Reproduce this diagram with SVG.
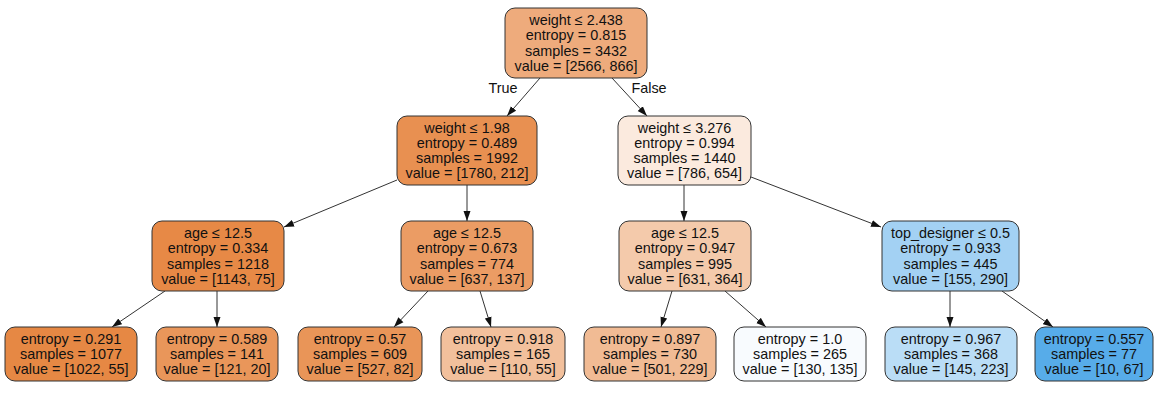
<svg xmlns="http://www.w3.org/2000/svg" width="1174" height="400" viewBox="0 0 1174 400">
  <style>
    .box { stroke: #333333; stroke-width: 1; }
    .lbl { font-family: "Liberation Sans", Arial, Helvetica, sans-serif; font-size: 14.4px; fill: #111111; text-anchor: middle; }
    .edge { stroke: #333333; stroke-width: 1; fill: none; marker-end: url(#arrow); }
  </style>
  <defs>
    <marker id="arrow" markerUnits="userSpaceOnUse" markerWidth="10" markerHeight="8" refX="10" refY="4" orient="auto">
      <path d="M0,0.5 L10,4 L0,7.5 Z" fill="#111111"/>
    </marker>
  </defs>
  <rect width="1174" height="400" fill="#ffffff"/>

  <!-- connectors -->
  <g id="connectors">
    <line class="edge" x1="540" y1="78" x2="507" y2="116"/>
    <line class="edge" x1="612" y1="78" x2="647" y2="116"/>
    <line class="edge" x1="397" y1="180" x2="284" y2="227"/>
    <line class="edge" x1="467" y1="185" x2="467" y2="221"/>
    <line class="edge" x1="684" y1="185" x2="684" y2="221"/>
    <line class="edge" x1="751" y1="177" x2="881" y2="227"/>
    <line class="edge" x1="165" y1="291" x2="112" y2="327"/>
    <line class="edge" x1="217" y1="291" x2="217" y2="327"/>
    <line class="edge" x1="428" y1="291" x2="394" y2="327"/>
    <line class="edge" x1="480" y1="291" x2="491" y2="327"/>
    <line class="edge" x1="672" y1="291" x2="661" y2="327"/>
    <line class="edge" x1="725" y1="291" x2="766" y2="327"/>
    <line class="edge" x1="950" y1="291" x2="950" y2="327"/>
    <line class="edge" x1="1002" y1="291" x2="1053" y2="327"/>
    <text class="lbl" x="503" y="93">True</text>
    <text class="lbl" x="649" y="93">False</text>
  </g>

  <!-- root split -->
  <g id="node0">
    <rect class="box" x="505" y="8" width="142" height="70" rx="10" fill="#eeab7c"/>
    <text class="lbl" x="576" y="25">weight ≤ 2.438</text>
    <text class="lbl" x="576" y="40.3">entropy = 0.815</text>
    <text class="lbl" x="576" y="55.6">samples = 3432</text>
    <text class="lbl" x="576" y="70.9">value = [2566, 866]</text>
  </g>

  <g id="node1">
    <rect class="box" x="397" y="116" width="140" height="69" rx="10" fill="#e89051"/>
    <text class="lbl" x="467" y="132.5">weight ≤ 1.98</text>
    <text class="lbl" x="467" y="147.8">entropy = 0.489</text>
    <text class="lbl" x="467" y="163.1">samples = 1992</text>
    <text class="lbl" x="467" y="178.4">value = [1780, 212]</text>
  </g>

  <g id="node8">
    <rect class="box" x="618" y="116" width="133" height="69" rx="10" fill="#fbeade"/>
    <text class="lbl" x="684.5" y="132.5">weight ≤ 3.276</text>
    <text class="lbl" x="684.5" y="147.8">entropy = 0.994</text>
    <text class="lbl" x="684.5" y="163.1">samples = 1440</text>
    <text class="lbl" x="684.5" y="178.4">value = [786, 654]</text>
  </g>

  <g id="node2">
    <rect class="box" x="152" y="221" width="132" height="70" rx="10" fill="#e78946"/>
    <text class="lbl" x="218" y="238">age ≤ 12.5</text>
    <text class="lbl" x="218" y="253.3">entropy = 0.334</text>
    <text class="lbl" x="218" y="268.6">samples = 1218</text>
    <text class="lbl" x="218" y="283.9">value = [1143, 75]</text>
  </g>

  <g id="node5">
    <rect class="box" x="401" y="221" width="132" height="70" rx="10" fill="#eb9c64"/>
    <text class="lbl" x="467" y="238">age ≤ 12.5</text>
    <text class="lbl" x="467" y="253.3">entropy = 0.673</text>
    <text class="lbl" x="467" y="268.6">samples = 774</text>
    <text class="lbl" x="467" y="283.9">value = [637, 137]</text>
  </g>

  <g id="node9">
    <rect class="box" x="619" y="221" width="132" height="70" rx="10" fill="#f4caab"/>
    <text class="lbl" x="685" y="238">age ≤ 12.5</text>
    <text class="lbl" x="685" y="253.3">entropy = 0.947</text>
    <text class="lbl" x="685" y="268.6">samples = 995</text>
    <text class="lbl" x="685" y="283.9">value = [631, 364]</text>
  </g>

  <g id="node12">
    <rect class="box" x="882" y="221" width="137" height="70" rx="10" fill="#a3d1f3"/>
    <text class="lbl" x="950.5" y="238">top_designer ≤ 0.5</text>
    <text class="lbl" x="950.5" y="253.3">entropy = 0.933</text>
    <text class="lbl" x="950.5" y="268.6">samples = 445</text>
    <text class="lbl" x="950.5" y="283.9">value = [155, 290]</text>
  </g>

  <!-- leaves -->
  <g id="node3">
    <rect class="box" x="5" y="327" width="132" height="54" rx="10" fill="#e68844"/>
    <text class="lbl" x="71" y="343.5">entropy = 0.291</text>
    <text class="lbl" x="71" y="358.8">samples = 1077</text>
    <text class="lbl" x="71" y="374.1">value = [1022, 55]</text>
  </g>

  <g id="node4">
    <rect class="box" x="156" y="327" width="122" height="54" rx="10" fill="#e9965a"/>
    <text class="lbl" x="217" y="343.5">entropy = 0.589</text>
    <text class="lbl" x="217" y="358.8">samples = 141</text>
    <text class="lbl" x="217" y="374.1">value = [121, 20]</text>
  </g>

  <g id="node6">
    <rect class="box" x="298" y="327" width="124" height="54" rx="10" fill="#e99558"/>
    <text class="lbl" x="360" y="343.5">entropy = 0.57</text>
    <text class="lbl" x="360" y="358.8">samples = 609</text>
    <text class="lbl" x="360" y="374.1">value = [527, 82]</text>
  </g>

  <g id="node7">
    <rect class="box" x="441" y="327" width="124" height="54" rx="10" fill="#f2c09c"/>
    <text class="lbl" x="503" y="343.5">entropy = 0.918</text>
    <text class="lbl" x="503" y="358.8">samples = 165</text>
    <text class="lbl" x="503" y="374.1">value = [110, 55]</text>
  </g>

  <g id="node10">
    <rect class="box" x="584" y="327" width="132" height="54" rx="10" fill="#f1bb94"/>
    <text class="lbl" x="650" y="343.5">entropy = 0.897</text>
    <text class="lbl" x="650" y="358.8">samples = 730</text>
    <text class="lbl" x="650" y="374.1">value = [501, 229]</text>
  </g>

  <g id="node11">
    <rect class="box" x="734" y="327" width="132" height="54" rx="10" fill="#f8fbfe"/>
    <text class="lbl" x="800" y="343.5">entropy = 1.0</text>
    <text class="lbl" x="800" y="358.8">samples = 265</text>
    <text class="lbl" x="800" y="374.1">value = [130, 135]</text>
  </g>

  <g id="node13">
    <rect class="box" x="885" y="327" width="132" height="54" rx="10" fill="#baddf6"/>
    <text class="lbl" x="951" y="343.5">entropy = 0.967</text>
    <text class="lbl" x="951" y="358.8">samples = 368</text>
    <text class="lbl" x="951" y="374.1">value = [145, 223]</text>
  </g>

  <g id="node14">
    <rect class="box" x="1035" y="327" width="118" height="54" rx="10" fill="#57ace9"/>
    <text class="lbl" x="1094" y="343.5">entropy = 0.557</text>
    <text class="lbl" x="1094" y="358.8">samples = 77</text>
    <text class="lbl" x="1094" y="374.1">value = [10, 67]</text>
  </g>
</svg>
